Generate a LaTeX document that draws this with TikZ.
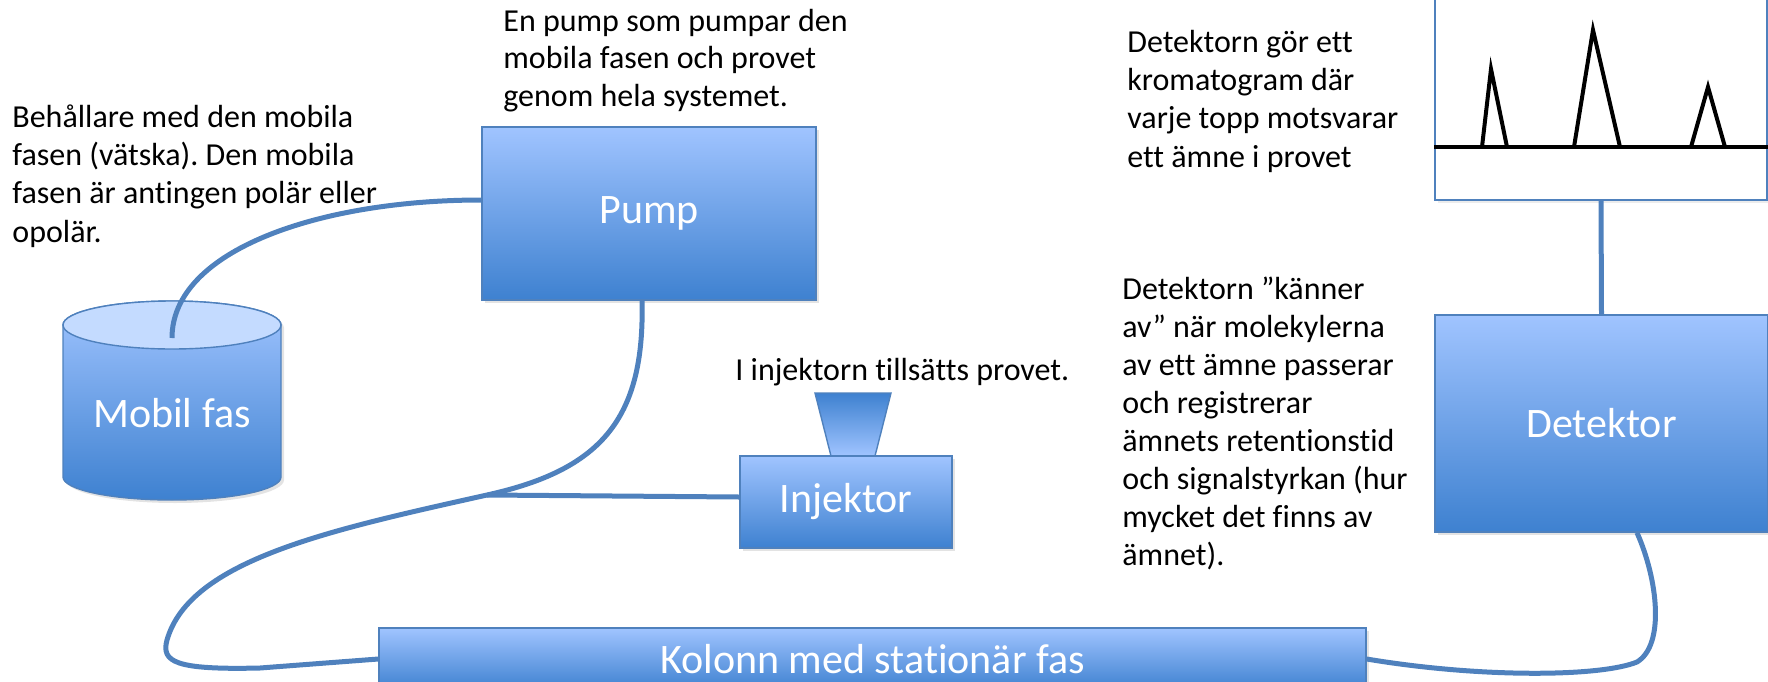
\documentclass[tikz,border=0pt]{standalone}
\usepackage{fontspec}
\setmainfont{Carlito}[Ligatures={NoCommon}]
\usetikzlibrary{shadows}
\frenchspacing
\definecolor{tube}{RGB}{79,129,189}
\definecolor{boxtop}{RGB}{160,196,255}
\definecolor{boxbot}{RGB}{62,129,208}
\definecolor{boxedge}{RGB}{79,129,189}
\definecolor{cyltop}{RGB}{196,219,255}
\begin{document}
\begin{tikzpicture}[x=0.5pt,y=-0.5pt,
  blockbox/.style={draw=boxedge, line width=0.7pt, top color=boxtop, bottom color=boxbot,
    inner sep=0pt, text=white, font=\fontsize{21}{25}\selectfont,
    drop shadow={shadow xshift=1.5pt, shadow yshift=-1.5pt, opacity=0.22}},
  tubeline/.style={draw=tube, line width=2.5pt},
  note/.style={anchor=base west, inner sep=0pt, align=left, text=black},
  peakline/.style={draw=black, line width=2pt},
  chartbox/.style={draw=boxedge, line width=0.7pt, fill=white, inner sep=0pt,
    drop shadow={shadow xshift=1.5pt, shadow yshift=-1.5pt, opacity=0.15}},
]
\useasboundingbox (0,0) rectangle (1768,681);
\clip (0,0) rectangle (1768,681);

% texts (anchor = baseline of the last line)
\node[note, font=\fontsize{16}{19.15}\selectfont] (t1) at (12,242)
  {Behållare med den mobila\\fasen (vätska). Den mobila\\fasen är antingen polär eller\\opolär.};
\node[note, font=\fontsize{16}{18.6}\selectfont] (t2) at (503,106)
  {En pump som pumpar den\\mobila fasen och provet\\genom hela systemet.};
\node[note, font=\fontsize{16}{19}\selectfont] (t3) at (735,380)
  {I injektorn tillsätts provet.};
\node[note, font=\fontsize{16}{19.15}\selectfont] (t4) at (1127,167)
  {Detektorn gör ett\\kromatogram där\\varje topp motsvarar\\ett ämne i provet};
\node[note, font=\fontsize{16}{19}\selectfont] (t5) at (1122,565)
  {Detektorn ”känner\\av” när molekylerna\\av ett ämne passerar\\och registrerar\\ämnets retentionstid\\och signalstyrkan (hur\\mycket det finns av\\ämnet).};

% cylinder (Mobil fas)
\path[draw=boxedge, line width=0.7pt, top color=boxtop, bottom color=boxbot,
      drop shadow={shadow xshift=1.5pt, shadow yshift=-1.5pt, opacity=0.22}]
  (63,325) -- (63,477) arc[start angle=180, end angle=360, x radius=54.5pt, y radius=11.5pt]
  -- (281,325) arc[start angle=0, end angle=180, x radius=54.5pt, y radius=12pt] -- cycle;
\draw[draw=boxedge, line width=0.7pt, fill=cyltop] (172,325) ellipse [x radius=54.5pt, y radius=12pt];
\node[text=white, font=\fontsize{21}{25}\selectfont] (mobil) at (172,413) {Mobil fas};
\coordinate (tubein) at (172,338);

% boxes
\node[blockbox, minimum width=167pt, minimum height=86.5pt] (pump) at (649,213.5) {Pump};
\path[draw=boxedge, line width=0.7pt, top color=boxbot, bottom color=boxtop]
  (815,393) -- (891,393) -- (875,456) -- (831,456) -- cycle;
\node[blockbox, minimum width=106pt, minimum height=46pt] (inj) at (846,502) {Injektor};
\node[blockbox, minimum width=493.5pt, minimum height=31pt] (kol) at (872.5,659) {Kolonn med stationär fas};
\node[blockbox, minimum width=166.5pt, minimum height=108.5pt] (det) at (1601.5,423.5) {Detektor};
\node[chartbox, minimum width=166pt, minimum height=105pt] (chart) at (1601,95) {};

% chromatogram
\draw[peakline] (chart.west |- 0,147) -- (1770,147);
\draw[peakline] (1482,147) -- (1491,69) -- (1507,147);
\draw[peakline] (1574,147) -- (1593,30) -- (1620,147);
\draw[peakline] (1691,147) -- (1708,87) -- (1725,147);

% tubes
\coordinate (junc) at (487,495);
\draw[tubeline] (tubein) .. controls (172,250) and (320,200) .. ([yshift=6.75pt]pump.west);
\draw[tubeline] ([xshift=-3.5pt]pump.south) .. controls (645,420) and (600,470) .. (junc)
  .. controls (330,530) and (190,560) .. (167,640)
  .. controls (161,662) and (175,670) .. (260,668) -- (kol.west);
\draw[tubeline] (junc) -- ([yshift=2.5pt]inj.west);
\draw[tubeline] (kol.east) .. controls (1480,678) and (1600,677) .. (1637,662)
  .. controls (1665,645) and (1658,580) .. ([xshift=17.75pt]det.south);
\draw[tubeline] (det.north) -- (chart.south);
\end{tikzpicture}
\end{document}
